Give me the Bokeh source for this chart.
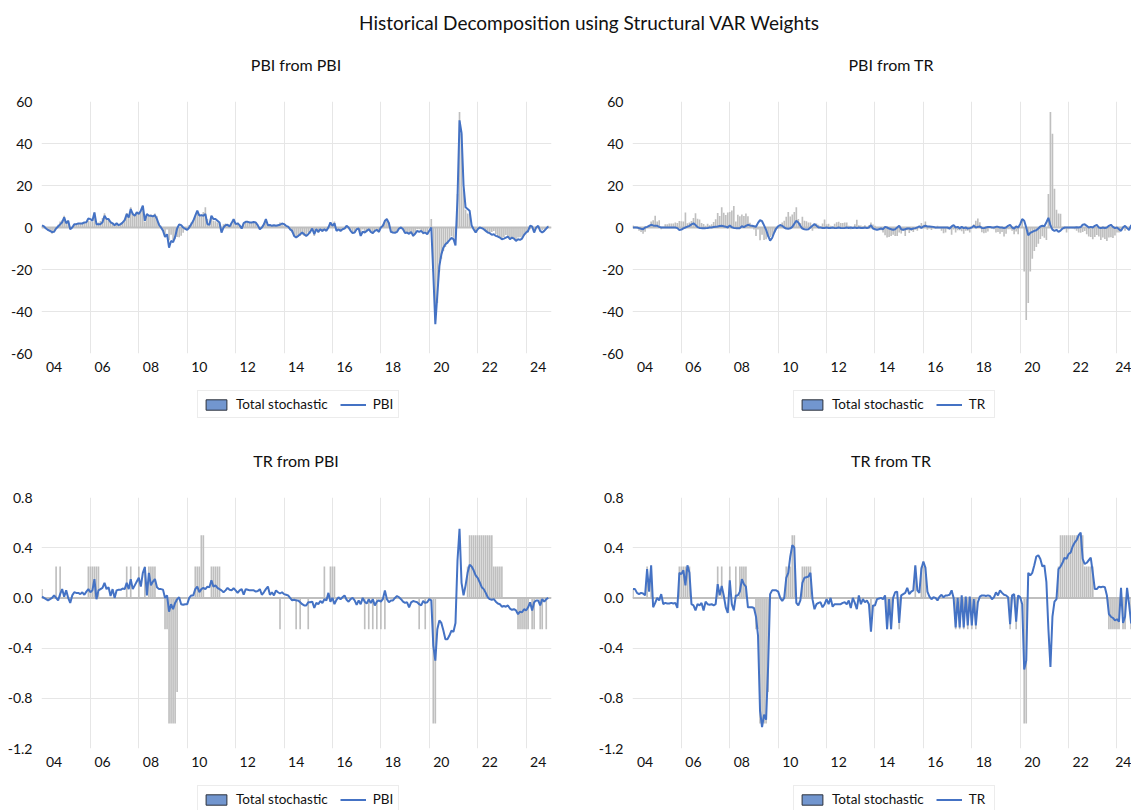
import pandas as pd
from bokeh.plotting import figure
from bokeh.layouts import column, row
from bokeh.models import (Range1d, FixedTicker, NumeralTickFormatter, Legend,
                          LegendItem, Span, Div)
from bokeh.embed import file_html
from bokeh.resources import INLINE

start = "2004-01-01"
n_months = 252

pbi_total = [
    1.0, 0.5, -0.5, -1.5, -2.2, -3.0, -2.0, -0.2, 1.3, 2.8, 3.5, 5.6,
    2.8, 3.5, -0.8, 0.0, 1.6, 1.6, 1.9, 1.9, 1.9, 2.4, 2.2, 3.1,
    3.0, 2.8, 7.2, 2.0, 2.4, 3.1, 4.5, 6.8, 4.2, 3.8, 2.2, 1.7,
    0.8, 1.8, 1.1, 1.6, 2.6, 3.9, 6.9, 5.5, 9.6, 7.0, 6.0, 7.2,
    7.4, 8.1, 10.2, 2.9, 6.1, 5.3, 6.2, 5.5, 6.7, 5.3, 2.3, 0.8,
    -0.9, -4.1, -1.0, -6.1, -3.4, -6.0, -5.6, -4.5, -4.7, -3.9, -2.5, -1.1,
    -0.5, 1.2, 2.4, 3.2, 5.1, 7.4, 5.2, 6.2, 7.4, 9.6, 4.0, 2.1,
    5.1, 3.2, 3.0, 2.4, 2.4, -1.6, 1.6, 1.9, 1.3, 0.5, 1.9, 3.8,
    1.6, 1.8, 0.8, -0.5, 1.8, 2.5, 2.7, 2.2, 2.1, 2.4, 2.4, 0.8,
    -0.8, -0.2, 1.5, 3.7, 1.1, 1.0, 0.6, 1.1, 0.5, 1.1, 2.4, 1.4,
    0.8, -0.3, -0.4, -1.3, -2.4, -3.7, -4.8, -4.5, -4.0, -3.5, -4.0, -4.0,
    -2.4, -2.8, -1.6, -4.0, -1.3, -2.6, -1.6, -2.1, -1.1, -1.6, 0.6, 2.2,
    1.3, 2.8, -1.1, -0.3, -1.2, -0.5, -0.5, 0.8, 0.0, -1.6, -2.7, -2.4,
    -0.8, -1.0, -3.5, -0.9, -2.4, -1.3, -1.3, -1.8, -3.0, -1.6, -1.6, -2.4,
    0.0, 1.6, 3.2, 4.3, 2.5, -2.3, -2.7, -2.5, -1.9, -0.2, 0.0, -0.8,
    -2.4, -2.1, -3.0, -2.1, -4.3, -3.0, -0.8, -0.8, -1.6, -3.2, -1.9, -3.2,
    0.0, 4.0, -21.0, -44.0, -36.0, -21.0, -14.9, -11.2, -9.3, -7.7, -5.5, -4.2,
    -4.9, -6.0, 16.0, 55.0, 44.6, 18.4, 8.5, 6.7, 6.5, 0.5, -0.8, -2.4,
    -0.8, 0.0, -0.3, -0.8, -1.5, -2.4, -2.5, -2.2, -1.7, -3.2, -4.3, -4.5,
    -5.6, -4.5, -3.6, -4.3, -5.9, -4.8, -5.5, -6.4, -4.8, -4.6, -5.0, -3.8,
    -2.4, -2.4, -0.8, 0.5, -1.6, -0.3, -0.4, -0.6, -1.2, -0.8, 0.0, 0.8,
]

pbi_from_pbi = [
    1.0, 0.5, -0.5, -1.2, -1.6, -2.2, -2.0, -0.5, 0.5, 1.5, 2.5, 4.8,
    2.0, 3.2, -0.8, 0.0, 1.6, 1.6, 1.9, 1.9, 1.9, 2.4, 2.5, 4.3,
    4.0, 3.2, 7.2, 1.6, 1.6, 1.6, 2.5, 5.6, 4.0, 4.0, 2.5, 2.0,
    1.1, 2.0, 1.1, 1.6, 2.4, 3.5, 6.4, 4.8, 8.8, 6.4, 5.6, 7.2,
    6.4, 8.0, 10.4, 3.2, 6.4, 5.6, 5.6, 5.3, 5.9, 4.0, 1.3, 0.0,
    -1.5, -4.5, -3.2, -9.6, -6.4, -7.0, -4.5, -0.5, 1.5, 1.1, 0.0, -0.6,
    -1.1, 0.0, 1.6, 3.2, 5.6, 8.0, 5.6, 5.9, 5.6, 6.4, 1.6, 1.3,
    5.6, 4.0, 4.0, 3.2, 2.4, -2.4, 0.0, 1.1, 1.3, 0.5, 2.1, 4.0,
    1.6, 2.0, 1.0, -0.5, 2.1, 2.7, 2.7, 2.4, 2.4, 2.6, 2.4, 1.0,
    -0.8, 0.0, 1.5, 4.0, 1.1, 1.2, 0.8, 1.1, 0.8, 1.1, 1.3, 1.9,
    1.6, 0.8, 0.4, -0.8, -1.6, -4.0, -4.8, -4.0, -3.2, -2.4, -3.2, -4.0,
    -3.2, -2.0, -0.5, -3.2, -0.8, -2.1, -0.8, -1.6, -0.8, -1.6, 0.0, 2.4,
    0.8, 2.0, -1.6, -0.8, -1.6, -0.8, -0.5, 0.8, 0.0, -1.6, -2.7, -2.4,
    -0.8, -0.5, -4.0, -2.0, -2.4, -1.6, -0.8, -2.1, -2.7, -1.6, -1.1, -2.1,
    0.0, 0.8, 3.2, 4.0, 2.0, -2.1, -2.4, -2.5, -2.1, -0.5, 0.0, -0.8,
    -2.7, -2.4, -3.0, -2.1, -4.0, -3.0, -1.6, -2.1, -1.6, -2.7, -2.4, -3.2,
    -1.6, 0.0, -22.0, -46.0, -32.0, -18.4, -12.8, -9.6, -8.0, -7.2, -6.0, -5.0,
    -5.5, -8.5, 14.0, 51.0, 45.0, 20.0, 9.6, 8.8, 8.0, 1.0, -0.8, -2.4,
    -0.8, 0.0, -0.3, -0.8, -1.6, -2.4, -2.7, -3.5, -3.2, -4.0, -4.3, -4.8,
    -5.6, -5.3, -4.8, -4.3, -5.6, -4.8, -5.3, -6.4, -5.6, -5.9, -5.3, -3.5,
    -2.4, -1.6, 0.8, 0.5, -2.4, 0.0, 0.8, -1.6, -2.4, -1.6, -0.5, 0.5,
]

pbi_from_tr = [
    0.0, 0.0, 0.0, -0.3, -0.6, -0.8, 0.0, 0.3, 0.8, 1.3, 1.0, 0.8,
    0.8, 0.3, 0.0, 0.0, 0.0, 0.0, 0.0, 0.0, 0.0, 0.0, -0.3, -1.2,
    -1.0, -0.4, 0.0, 0.4, 0.8, 1.5, 2.0, 1.2, 0.2, -0.2, -0.3, -0.3,
    -0.3, -0.2, 0.0, 0.0, 0.2, 0.4, 0.5, 0.7, 0.8, 0.6, 0.4, 0.0,
    1.0, 0.1, -0.2, -0.3, -0.3, -0.3, 0.6, 0.2, 0.8, 1.3, 1.0, 0.8,
    0.6, 0.4, 2.2, 3.5, 3.0, 1.0, -1.1, -4.0, -6.2, -5.0, -2.5, -0.5,
    0.6, 1.2, 0.8, 0.0, -0.5, -0.6, -0.4, 0.3, 1.8, 3.2, 2.4, 0.8,
    -0.5, -0.8, -1.0, -0.8, 0.0, 0.8, 1.6, 0.8, 0.0, 0.0, -0.2, -0.2,
    0.0, -0.2, -0.2, 0.0, -0.3, -0.2, 0.0, -0.2, -0.3, -0.2, 0.0, -0.2,
    0.0, -0.2, 0.0, -0.3, 0.0, -0.2, -0.2, 0.0, -0.3, 0.0, 1.1, -0.5,
    -0.8, -1.1, -0.8, -0.5, -0.8, 0.3, 0.0, -0.5, -0.8, -1.1, -0.8, 0.0,
    0.8, -0.8, -1.1, -0.8, -0.5, -0.5, -0.8, -0.5, -0.3, 0.0, 0.6, -0.2,
    0.5, 0.8, 0.5, 0.5, 0.4, 0.3, 0.0, 0.0, 0.0, 0.0, 0.0, 0.0,
    0.0, -0.5, 0.5, 1.1, 0.0, 0.3, -0.5, 0.3, -0.3, 0.0, -0.5, -0.3,
    0.0, 0.8, 0.0, 0.3, 0.5, -0.2, -0.3, 0.0, 0.2, 0.3, 0.0, 0.0,
    0.3, 0.3, 0.0, 0.0, -0.3, 0.0, 0.8, 1.3, 0.0, -0.5, 0.5, 0.0,
    1.6, 4.0, 3.2, 0.0, -3.7, -2.6, -2.1, -1.6, -1.3, -0.5, 0.5, 0.8,
    0.6, 2.5, 4.6, 1.0, -1.0, -1.6, -1.1, -2.1, -1.5, -0.5, 0.0, 0.0,
    0.0, 0.0, 0.0, 0.0, 0.1, 0.0, 0.2, 1.3, 1.5, 0.8, 0.0, 0.3,
    0.0, 0.8, 1.2, 0.0, -0.3, 0.0, -0.2, 0.0, 0.8, 1.3, 0.3, -0.3,
    0.0, -0.8, -1.6, 0.0, 0.8, -0.3, -1.2, 1.0, 1.2, 0.8, 0.5, 0.3,
]

tr_total = [
    0.07, 0, 0, 0, 0, 0, 0, 0.25, 0, 0.25, 0, 0,
    0, 0, 0, 0, 0, 0, 0, 0, 0, 0, 0, 0.25,
    0.25, 0.25, 0.25, 0.25, 0.25, 0, 0, 0, 0, 0, 0, 0,
    0, 0, 0, 0, 0, 0, 0.25, 0, 0.25, 0, 0, 0,
    0.25, 0, 0, 0.25, 0, 0.25, 0.25, 0.25, 0.25, 0, 0, 0,
    0, -0.25, -0.25, -1.0, -1.0, -1.0, -1.0, -0.75, 0, 0, 0, 0,
    0, 0, 0, 0, 0.25, 0.25, 0.25, 0.5, 0.5, 0, 0, 0,
    0.25, 0.25, 0.25, 0.25, 0.25, 0, 0, 0, 0, 0, 0, 0,
    0, 0, 0, 0, 0, 0, 0, 0, 0, 0, 0, 0,
    0, 0, 0, 0, 0, 0, 0, 0, 0, 0, -0.25, 0,
    0, 0, 0, 0, 0, 0, -0.25, 0, -0.25, 0, 0, 0,
    -0.25, 0, 0, 0, 0, 0, 0, 0, 0.25, 0, 0, 0.25,
    0.25, 0.25, 0, 0, 0, 0, 0, 0, 0, 0, 0, 0,
    0, 0, 0, 0, -0.25, 0, -0.25, 0, -0.25, 0, -0.25, 0,
    -0.25, 0, -0.25, 0, 0, 0, 0, 0, 0, 0, 0, 0,
    0, 0, 0, 0, 0, 0, 0, -0.25, 0, 0, -0.25, 0,
    0, 0, -1.0, -1.0, 0, 0, 0, 0, 0, 0, 0, 0,
    0, 0, 0, 0, 0, 0, 0, 0.25, 0.5, 0.5, 0.5, 0.5,
    0.5, 0.5, 0.5, 0.5, 0.5, 0.5, 0.5, 0.5, 0.25, 0.25, 0.25, 0.25,
    0.25, 0, 0, 0, 0, 0, 0, 0, -0.25, -0.25, -0.25, -0.25,
    -0.25, -0.25, 0, -0.25, -0.25, 0, 0, -0.25, -0.25, 0, -0.25, 0,
]

tr_from_pbi = [
    0.01, 0.0, -0.01, -0.02, -0.01, 0.0, 0.02, 0.0, -0.02, 0.03, 0.07, 0.01,
    0.06, 0.0, -0.04, 0.02, 0.045, 0.04, 0.04, 0.03, 0.045, 0.025, 0.05, 0.07,
    0.045, 0.06, 0.15, -0.01, 0.06, 0.07, 0.08, 0.12, 0.07, 0.085, 0.015, 0.07,
    0.0, 0.06, 0.065, 0.064, 0.075, 0.07, 0.12, 0.07, 0.15, 0.07, 0.1, 0.13,
    0.16, 0.09, 0.2, 0.245, 0.02, 0.2, 0.1, 0.13, 0.15, 0.085, 0.07, 0.07,
    0.066, 0.0, 0.02, -0.11, -0.05, -0.09, -0.04, -0.01, 0.005, -0.05, -0.055, -0.05,
    -0.05, 0.0, 0.02, 0.02, 0.07, 0.09, 0.045, 0.07, 0.08, 0.07, 0.09, 0.085,
    0.14, 0.09, 0.1, 0.08, 0.07, 0.06, 0.045, 0.06, 0.08, 0.065, 0.06, 0.077,
    0.06, 0.04, 0.06, 0.07, 0.025, 0.07, 0.065, 0.06, 0.06, 0.06, 0.05, 0.055,
    0.07, 0.025, 0.045, 0.07, 0.09, 0.025, 0.045, 0.02, 0.06, 0.045, 0.035, 0.045,
    0.03, 0.025, 0.02, 0.0, -0.02, -0.015, -0.02, -0.02, -0.035, -0.05, -0.06, -0.06,
    -0.035, -0.035, -0.03, -0.08, -0.04, -0.05, -0.025, -0.04, -0.01, -0.02, 0.04, -0.03,
    0.0, -0.05, -0.015, 0.005, -0.01, 0.005, 0.02, -0.015, -0.03, -0.01, 0.0, -0.02,
    -0.055, -0.02, -0.05, 0.0, -0.03, -0.045, -0.01, -0.04, -0.01, -0.06, -0.03, -0.02,
    -0.03, -0.01, 0.06, -0.01, -0.035, -0.02, -0.02, 0.0, 0.015, 0.005, -0.01, -0.03,
    -0.04, -0.035, -0.075, -0.035, -0.025, -0.03, -0.035, -0.05, -0.06, -0.025, -0.04, -0.035,
    -0.01, -0.02, -0.38, -0.5, -0.25, -0.18, -0.2, -0.26, -0.33, -0.33, -0.3, -0.26,
    -0.27, -0.2, 0.3, 0.55, 0.12, 0.02, 0.1, 0.2, 0.265, 0.25, 0.22, 0.18,
    0.16, 0.125, 0.085, 0.07, 0.04, 0.005, -0.01, -0.015, -0.01, -0.03, -0.045, -0.05,
    -0.07, -0.065, -0.07, -0.06, -0.085, -0.095, -0.09, -0.1, -0.13, -0.11, -0.115, -0.09,
    -0.1, -0.075, -0.035, -0.1, -0.035, -0.02, -0.02, -0.06, -0.01, -0.03, -0.01, 0.0,
]

tr_from_tr = [
    0.07, 0.07, 0.04, 0.03, 0.04, 0.035, 0.02, 0.23, 0.05, 0.26, -0.075, -0.04,
    0.0, -0.02, 0.03, -0.05, -0.04, -0.045, -0.045, -0.04, -0.045, -0.04, -0.08, 0.2,
    0.19, 0.22, 0.1, 0.26, 0.2, -0.05, -0.06, -0.1, -0.05, -0.06, -0.04, -0.1,
    -0.03, -0.05, -0.055, -0.05, -0.06, -0.05, 0.11, 0.02, 0.095, 0.02, -0.075, -0.12,
    0.14, -0.05, -0.1, 0.02, 0.02, 0.05, 0.15, 0.11, 0.09, -0.075, -0.075, -0.075,
    -0.08, -0.15, -0.3, -0.9, -1.03, -0.93, -0.97, -0.55, 0.03, 0.06, 0.06, 0.06,
    0.05, 0.0, -0.025, 0.0, 0.16, 0.2, 0.33, 0.42, 0.4, -0.04, -0.06, -0.02,
    0.12, 0.16, 0.165, 0.17, 0.2, -0.01, -0.09, -0.05, -0.04, -0.035, -0.075, -0.05,
    -0.01, -0.05, 0.0, -0.07, -0.05, -0.05, -0.05, -0.05, -0.04, -0.035, -0.05, -0.02,
    -0.08, 0.0, -0.04, -0.09, 0.02, -0.05, -0.01, -0.035, -0.02, -0.05, -0.27, -0.06,
    -0.06, -0.01, -0.005, 0.0, -0.01, 0.02, -0.25, -0.01, -0.25, 0.0, 0.045, 0.05,
    -0.2, 0.02, 0.03, 0.04, 0.08, 0.03, 0.05, 0.06, 0.26, 0.06, 0.04, 0.23,
    0.29, 0.24, 0.05, 0.01, -0.01, 0.005, 0.0, -0.02, 0.01, 0.025, 0.005, 0.02,
    0.02, 0.025, 0.06, 0.0, -0.235, 0.0, -0.235, 0.02, -0.235, 0.01, -0.22, 0.01,
    -0.22, -0.01, -0.22, -0.035, 0.01, 0.02, 0.02, 0.015, 0.02, 0.015, -0.01, 0.005,
    0.045, 0.02, 0.06, 0.04, 0.025, 0.02, 0.005, -0.21, 0.02, 0.03, -0.19, 0.02,
    0.005, -0.05, -0.57, -0.5, 0.2, 0.18, 0.2, 0.26, 0.33, 0.34, 0.31, 0.25,
    0.26, 0.125, -0.25, -0.55, -0.15, -0.03, -0.01, 0.23, 0.25, 0.28, 0.32, 0.31,
    0.35, 0.36, 0.41, 0.44, 0.46, 0.5, 0.52, 0.31, 0.27, 0.28, 0.3, 0.32,
    0.2, 0.07, 0.07, 0.09, 0.085, 0.09, 0.085, 0.02, -0.13, -0.15, -0.16, -0.18,
    -0.17, -0.19, 0.08, -0.2, -0.15, 0.08, -0.05, -0.2, -0.2, 0.0, -0.2, -0.05,
]

tick_years = [2004, 2006, 2008, 2010, 2012, 2014, 2016, 2018, 2020, 2022, 2024]
tick_labels = ["04", "06", "08", "10", "12", "14", "16", "18", "20", "22", "24"]
main_title = "Historical Decomposition using Structural VAR Weights"
panel_titles = ["PBI from PBI", "PBI from TR", "TR from PBI", "TR from TR"]

FONT = "Lato"
BLUE = "#4472c4"
BAR = "#bfbfbf"
GRID = "#e6e6e6"
TEXT = "#111111"
KEY_FILL = "#7296cf"
KEY_LINE = "#2a2f3a"

months = pd.date_range(start, periods=n_months, freq="MS")
xpos = [d.year + (d.month - 1) / 12 for d in months]


def panel(bars, line, yr, yticks, yfmt, fw, fh, left, right, top, x_end):
    p = figure(frame_width=fw, frame_height=fh, title=None,
               x_range=Range1d(2003.98, x_end), y_range=Range1d(*yr),
               output_backend="svg", toolbar_location=None,
               min_border_left=left, min_border_right=right,
               min_border_top=top, min_border_bottom=26,
               outline_line_color=None, background_fill_color="white",
               border_fill_color="white")

    p.xgrid.ticker = FixedTicker(ticks=tick_years[1:])
    p.xgrid.grid_line_color = GRID
    p.ygrid.grid_line_color = GRID
    p.ygrid.ticker = FixedTicker(ticks=yticks)

    for ax in (p.xaxis, p.yaxis):
        ax.axis_line_color = None
        ax.major_tick_line_color = None
        ax.minor_tick_line_color = None
        ax.major_label_text_font = FONT
        ax.major_label_text_font_size = "14px"
        ax.major_label_text_color = TEXT
    p.xaxis.ticker = FixedTicker(ticks=[y + 0.5 for y in tick_years])
    p.xaxis.major_label_overrides = {y + 0.5: lab for y, lab in zip(tick_years, tick_labels)}
    p.xaxis.major_label_standoff = 2
    p.yaxis.ticker = FixedTicker(ticks=yticks)
    p.yaxis.formatter = NumeralTickFormatter(format=yfmt)
    p.yaxis.major_label_standoff = 3

    p.add_layout(Span(location=0, dimension="width", line_color=BAR, line_width=2,
                      level="underlay"))
    p.vbar(x=xpos, top=bars, width=1 / 12 * 0.82, bottom=0,
           fill_color=BAR, line_color=None)
    p.line(xpos, line, line_color=BLUE, line_width=2)
    return p


def legend_strip(width, height, line_name, vx, vy):
    f = figure(width=width, height=height, x_range=Range1d(0, 1), y_range=Range1d(0, 1),
               x_axis_location=None, y_axis_location=None, toolbar_location=None,
               output_backend="svg", min_border=0, outline_line_color=None,
               border_fill_color="white", background_fill_color="white")
    f.xgrid.visible = False
    f.ygrid.visible = False
    key = f.vbar(x=[-5], top=[0], width=0.1, fill_color=KEY_FILL,
                 line_color=KEY_LINE, line_width=1)
    ln = f.line(x=[-5, -4], y=[0, 0], line_color=BLUE, line_width=2)
    legend = Legend(items=[LegendItem(label="Total stochastic", renderers=[key]),
                           LegendItem(label=line_name, renderers=[ln])],
                    orientation="horizontal", location=(vx, vy),
                    border_line_color="#d9d9d9",
                    label_text_font=FONT, label_text_font_size="13.5px",
                    label_text_color=TEXT, glyph_width=26, glyph_height=13,
                    label_height=14, label_standoff=7, spacing=12, padding=5,
                    margin=0)
    f.add_layout(legend)
    return f


def title_div(text, width, height, pad_top, pad_left):
    return Div(text=text, width=width, height=height, margin=(0, 0, 0, 0),
               styles={"text-align": "center", "font-family": FONT, "font-size": "16px",
                       "color": TEXT, "padding-top": f"{pad_top}px",
                       "padding-left": f"{pad_left}px", "box-sizing": "border-box"})


top_ticks = [-60, -40, -20, 0, 20, 40, 60]
bot_ticks = [-1.2, -0.8, -0.4, 0.0, 0.4, 0.8]

p1 = panel(pbi_total, pbi_from_pbi, (-60, 60), top_ticks, "0", 510, 252, 41, 14, 21, 2025.05)
p2 = panel(pbi_total, pbi_from_tr, (-60, 60), top_ticks, "0", 499, 252, 67, 0, 21, 2024.60)
p3 = panel(tr_total, tr_from_pbi, (-1.2, 0.8), bot_ticks, "0.0", 510, 251, 41, 14, 22, 2025.05)
p4 = panel(tr_total, tr_from_tr, (-1.2, 0.8), bot_ticks, "0.0", 499, 251, 67, 0, 22, 2024.60)

t1 = title_div(panel_titles[0], 565, 40, 14, 27)
t2 = title_div(panel_titles[1], 566, 40, 14, 86)
t3 = title_div(panel_titles[2], 565, 45, 20, 27)
t4 = title_div(panel_titles[3], 566, 45, 20, 86)

l1 = legend_strip(565, 51, "PBI", 197, 12)
l2 = legend_strip(566, 51, "TR", 228, 12)
l3 = legend_strip(565, 36, "PBI", 197, -3)
l4 = legend_strip(566, 36, "TR", 228, -3)

head = Div(text=main_title, width=1131, height=40, margin=(0, 0, 0, 0),
           styles={"text-align": "center", "font-family": FONT, "font-size": "19px",
                   "color": TEXT, "padding-top": "9px", "padding-left": "47px",
                   "box-sizing": "border-box"})

layout = column(head, row(t1, t2), row(p1, p2), row(l1, l2),
                row(t3, t4), row(p3, p4), row(l3, l4))

open("out.html", "w").write(file_html(layout, INLINE))
